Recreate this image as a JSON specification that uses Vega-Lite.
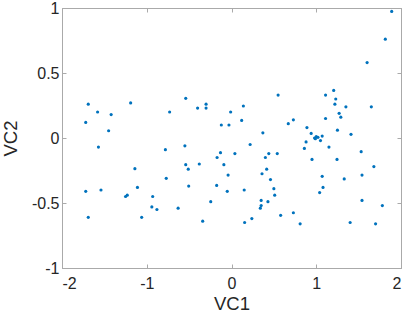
{
  "$schema": "https://vega.github.io/schema/vega-lite/v6.json",
  "autosize": "none",
  "width": 339,
  "height": 260,
  "padding": {"left": 62, "top": 8, "right": 6, "bottom": 45},
  "background": "white",
  "config": {
    "view": {"stroke": "#aaaaaa", "strokeWidth": 1},
    "font": "Liberation Sans",
    "axis": {
      "domainColor": "#aaaaaa",
      "tickColor": "#aaaaaa",
      "tickSize": -4,
      "grid": false,
      "labelFont": "Liberation Sans",
      "labelFontSize": 16,
      "labelColor": "#262626",
      "titleFont": "Liberation Sans",
      "titleFontSize": 18.5,
      "titleFontWeight": "normal",
      "titleColor": "#262626"
    }
  },
  "data": {
    "values": [
      {"VC1": -1.72, "VC2": 0.12}, {"VC1": -1.69, "VC2": 0.26}, {"VC1": -1.58, "VC2": 0.2},
      {"VC1": -1.45, "VC2": 0.056}, {"VC1": -1.42, "VC2": 0.18}, {"VC1": -1.19, "VC2": 0.27},
      {"VC1": -0.73, "VC2": 0.2}, {"VC1": -0.54, "VC2": 0.305}, {"VC1": -0.4, "VC2": 0.23},
      {"VC1": -0.3, "VC2": 0.26}, {"VC1": -0.3, "VC2": 0.23}, {"VC1": -0.12, "VC2": 0.1},
      {"VC1": -0.03, "VC2": 0.1}, {"VC1": -0.01, "VC2": 0.2}, {"VC1": 1.89, "VC2": 0.974},
      {"VC1": 1.815, "VC2": 0.76}, {"VC1": 1.6, "VC2": 0.58}, {"VC1": 1.206, "VC2": 0.366},
      {"VC1": 1.11, "VC2": 0.33}, {"VC1": 0.55, "VC2": 0.33}, {"VC1": 1.23, "VC2": 0.3},
      {"VC1": 1.22, "VC2": 0.26}, {"VC1": 1.35, "VC2": 0.24}, {"VC1": 1.65, "VC2": 0.24},
      {"VC1": 0.14, "VC2": 0.246}, {"VC1": 0.12, "VC2": 0.135}, {"VC1": 1.27, "VC2": 0.19},
      {"VC1": 1.29, "VC2": 0.16}, {"VC1": 1.11, "VC2": 0.15}, {"VC1": 0.73, "VC2": 0.14},
      {"VC1": 0.67, "VC2": 0.11}, {"VC1": 0.89, "VC2": 0.08}, {"VC1": 1.25, "VC2": 0.06},
      {"VC1": 0.37, "VC2": 0.04}, {"VC1": 0.94, "VC2": 0.035}, {"VC1": 1.07, "VC2": 0.015},
      {"VC1": 1.41, "VC2": 0.028}, {"VC1": 0.98, "VC2": 0.0}, {"VC1": 1.0, "VC2": 0.01},
      {"VC1": 1.02, "VC2": 0.005}, {"VC1": 1.05, "VC2": -0.02}, {"VC1": 0.99, "VC2": -0.005},
      {"VC1": 0.88, "VC2": -0.03}, {"VC1": 0.86, "VC2": -0.08}, {"VC1": 1.15, "VC2": -0.07},
      {"VC1": 1.53, "VC2": -0.105}, {"VC1": 0.22, "VC2": -0.05}, {"VC1": 0.04, "VC2": -0.12},
      {"VC1": 0.44, "VC2": -0.12}, {"VC1": 0.54, "VC2": -0.12}, {"VC1": 0.4, "VC2": -0.15},
      {"VC1": 0.95, "VC2": -0.165}, {"VC1": 1.245, "VC2": -0.165}, {"VC1": 1.68, "VC2": -0.22},
      {"VC1": -0.04, "VC2": -0.285}, {"VC1": 0.36, "VC2": -0.275}, {"VC1": 0.415, "VC2": -0.24},
      {"VC1": 0.46, "VC2": -0.32}, {"VC1": 1.07, "VC2": -0.295}, {"VC1": 1.33, "VC2": -0.315},
      {"VC1": 1.54, "VC2": -0.285}, {"VC1": -0.05, "VC2": -0.41}, {"VC1": 0.15, "VC2": -0.4},
      {"VC1": 0.5, "VC2": -0.39}, {"VC1": 0.51, "VC2": -0.44}, {"VC1": 1.04, "VC2": -0.42},
      {"VC1": 1.08, "VC2": -0.38}, {"VC1": 0.35, "VC2": -0.48}, {"VC1": 0.43, "VC2": -0.49},
      {"VC1": 0.35, "VC2": -0.52}, {"VC1": 0.34, "VC2": -0.54}, {"VC1": 1.54, "VC2": -0.48},
      {"VC1": 1.78, "VC2": -0.52}, {"VC1": 0.73, "VC2": -0.575}, {"VC1": 0.58, "VC2": -0.595},
      {"VC1": 0.24, "VC2": -0.62}, {"VC1": 0.155, "VC2": -0.65}, {"VC1": 0.81, "VC2": -0.66},
      {"VC1": 1.4, "VC2": -0.65}, {"VC1": 1.7, "VC2": -0.66}, {"VC1": -0.09, "VC2": -0.205},
      {"VC1": -1.57, "VC2": -0.07}, {"VC1": -0.78, "VC2": -0.09}, {"VC1": -0.55, "VC2": -0.06},
      {"VC1": -0.54, "VC2": -0.205}, {"VC1": -0.51, "VC2": -0.24}, {"VC1": -0.38, "VC2": -0.2},
      {"VC1": -0.17, "VC2": -0.15}, {"VC1": -0.13, "VC2": -0.113}, {"VC1": -0.175, "VC2": -0.365},
      {"VC1": -0.245, "VC2": -0.49}, {"VC1": -0.34, "VC2": -0.64}, {"VC1": -0.505, "VC2": -0.37},
      {"VC1": -0.63, "VC2": -0.54}, {"VC1": -0.77, "VC2": -0.31}, {"VC1": -0.93, "VC2": -0.45},
      {"VC1": -0.94, "VC2": -0.53}, {"VC1": -0.88, "VC2": -0.55}, {"VC1": -1.06, "VC2": -0.61},
      {"VC1": -1.11, "VC2": -0.38}, {"VC1": -1.14, "VC2": -0.236}, {"VC1": -1.23, "VC2": -0.44},
      {"VC1": -1.25, "VC2": -0.45}, {"VC1": -1.54, "VC2": -0.4}, {"VC1": -1.72, "VC2": -0.41},
      {"VC1": -1.69, "VC2": -0.61}
    ]
  },
  "layer": [
    {
      "mark": {"type": "point", "filled": true, "size": 10, "color": "#0072BD", "opacity": 1},
      "encoding": {
        "x": {
          "field": "VC1", "type": "quantitative",
          "scale": {"domain": [-2, 2], "nice": false, "zero": false},
          "axis": {"values": [-2, -1, 0, 1, 2], "labelExpr": "datum.value + ''", "title": "VC1",
                   "labelPadding": 11, "titleX": 169.5, "titleY": 41.5, "titleBaseline": "alphabetic", "titleAlign": "center"}
        },
        "y": {
          "field": "VC2", "type": "quantitative",
          "scale": {"domain": [-1, 1], "nice": false, "zero": false},
          "axis": {"values": [-1, -0.5, 0, 0.5, 1], "labelExpr": "datum.value + ''", "title": "VC2",
                   "labelPadding": 7, "titleX": -52, "titleY": 130, "titleBaseline": "middle", "titleAlign": "center", "titleAngle": -90}
        }
      }
    },
    {
      "mark": {"type": "point", "opacity": 0},
      "encoding": {
        "x": {
          "field": "VC1", "type": "quantitative",
          "scale": {"domain": [-2, 2], "nice": false, "zero": false},
          "axis": {"orient": "top", "values": [-2, -1, 0, 1, 2], "labels": false, "title": null}
        },
        "y": {
          "field": "VC2", "type": "quantitative",
          "scale": {"domain": [-1, 1], "nice": false, "zero": false},
          "axis": {"orient": "right", "values": [-1, -0.5, 0, 0.5, 1], "labels": false, "title": null}
        }
      }
    }
  ],
  "resolve": {"axis": {"x": "independent", "y": "independent"}}
}
